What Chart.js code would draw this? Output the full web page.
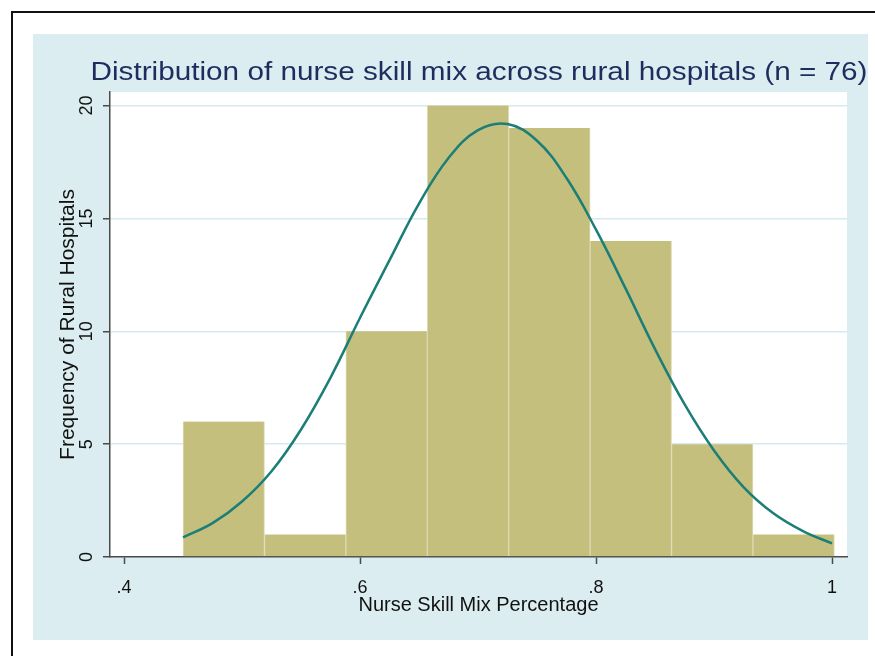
<!DOCTYPE html>
<html>
<head>
<meta charset="utf-8">
<script src="https://cdn.jsdelivr.net/npm/chart.js@4"></script>
<style>
  html, body { margin: 0; padding: 0; background: #fff; }
  #wrap { width: 875px; height: 656px; position: relative; }
</style>
</head>
<body>
<div id="wrap"><canvas id="chart"></canvas></div>
<script>
// histogram bins (edges) and counts
const binEdges = [0.45, 0.519, 0.588, 0.657, 0.726, 0.795, 0.864, 0.933, 1.002];
const counts = [6, 1, 10, 20, 19, 14, 5, 1];

// fitted normal curve
const curveX = [0.45, 0.475, 0.5, 0.525, 0.55, 0.575, 0.6, 0.625, 0.65, 0.675, 0.7, 0.725,
                0.75, 0.775, 0.8, 0.825, 0.85, 0.875, 0.9, 0.925, 0.95, 0.975, 1.0];
const curveY = [0.87, 1.5, 2.46, 3.8, 5.65, 7.95, 10.6, 13.15, 15.66, 17.68, 18.91, 19.18,
                18.44, 16.79, 14.5, 11.9, 9.21, 6.77, 4.72, 3.1, 1.95, 1.16, 0.6];

const xTicks = [0.4, 0.6, 0.8, 1.0];
const xTickLabels = ['.4', '.6', '.8', '1'];
const yTicks = [0, 5, 10, 15, 20];

const titleText = 'Distribution of nurse skill mix across rural hospitals (n = 76)';
const xTitle = 'Nurse Skill Mix Percentage';
const yTitle = 'Frequency of Rural Hospitals';

const FONT = "'Liberation Sans', Arial, sans-serif";
const AXIS_DARK = '#4a4a4a';

const barData = counts.map((c, i) => ({ x: (binEdges[i] + binEdges[i + 1]) / 2, y: c }));
const curveData = curveX.map((x, i) => ({ x: x, y: curveY[i] }));

// background panels + title
const backdrop = {
  id: 'backdrop',
  beforeDraw(chart) {
    const ctx = chart.ctx;
    const a = chart.chartArea;
    ctx.save();
    ctx.fillStyle = '#ffffff';
    ctx.fillRect(0, 0, chart.width, chart.height);
    // black frame (top + left)
    ctx.strokeStyle = '#111';
    ctx.lineWidth = 2;
    ctx.beginPath();
    ctx.moveTo(12, chart.height);
    ctx.lineTo(12, 12);
    ctx.lineTo(chart.width, 12);
    ctx.stroke();
    // light blue graph region
    ctx.fillStyle = '#dcedf1';
    ctx.fillRect(33, 34, 835, 606);
    // white plot region
    ctx.fillStyle = '#ffffff';
    ctx.fillRect(a.left, a.top, a.right - a.left, a.bottom - a.top);
    ctx.restore();
  },
  afterDraw(chart) {
    const ctx = chart.ctx;
    ctx.save();
    ctx.fillStyle = '#1f2c5e';
    ctx.font = '26px ' + FONT;
    ctx.textAlign = 'center';
    ctx.textBaseline = 'middle';
    // the source title is a little wider than the font gives, stretch to fit
    const w = ctx.measureText(titleText).width;
    ctx.translate(479, 73);
    ctx.scale(777 / w, 1);
    ctx.fillText(titleText, 0, 0);
    ctx.restore();
  }
};

new Chart(document.getElementById('chart'), {
  type: 'bar',
  data: {
    datasets: [
      {
        type: 'line',
        data: curveData,
        borderColor: '#1b7e77',
        borderWidth: 2.5,
        pointRadius: 0,
        tension: 0.4,
        fill: false,
        order: 0
      },
      {
        type: 'bar',
        data: barData,
        backgroundColor: '#c5bf7e',
        borderColor: '#ddd9b2',
        borderWidth: { left: 1, right: 1, top: 0, bottom: 0 },
        borderSkipped: false,
        barPercentage: 1,
        categoryPercentage: 1,
        order: 1
      }
    ]
  },
  options: {
    responsive: true,
    maintainAspectRatio: false,
    animation: false,
    layout: { padding: { left: 35, right: 28, top: 92, bottom: 29 } },
    plugins: {
      legend: { display: false },
      tooltip: { enabled: false },
      title: { display: false }
    },
    scales: {
      x: {
        type: 'linear',
        offset: false,
        min: 0.3881,
        max: 1.0127,
        afterBuildTicks: s => { s.ticks = xTicks.map(v => ({ value: v })); },
        afterFit: s => { s.height = 70; },
        ticks: {
          color: '#111',
          font: { family: FONT, size: 18 },
          padding: 13,
          maxRotation: 0,
          autoSkip: false,
          callback: (v) => xTickLabels[xTicks.indexOf(v)]
        },
        grid: { offset: false, drawOnChartArea: false, drawTicks: true, tickLength: 7, tickColor: AXIS_DARK, tickWidth: 1.5 },
        border: { display: true, color: AXIS_DARK, width: 1.5 },
        title: {
          display: true,
          text: xTitle,
          color: '#111',
          font: { family: FONT, size: 20 },
          padding: { top: 0, bottom: 10 }
        }
      },
      y: {
        min: 0,
        max: 20.6,
        afterBuildTicks: s => { s.ticks = yTicks.map(v => ({ value: v })); },
        afterFit: s => { s.width = 75; },
        ticks: {
          color: '#111',
          font: { family: FONT, size: 18 },
          minRotation: 90,
          maxRotation: 90,
          crossAlign: 'center',
          padding: 6
        },
        grid: {
          color: c => (c.tick && c.tick.value === 0) ? 'rgba(0,0,0,0)' : '#d6e9ef',
          lineWidth: 1.5,
          tickLength: 7,
          tickColor: AXIS_DARK,
          tickWidth: 1.5
        },
        border: { display: true, color: AXIS_DARK, width: 1.5 },
        title: {
          display: true,
          text: yTitle,
          color: '#111',
          font: { family: FONT, size: 21 },
          padding: { top: 21, bottom: 0 }
        }
      }
    }
  },
  plugins: [backdrop]
});
</script>
</body>
</html>
